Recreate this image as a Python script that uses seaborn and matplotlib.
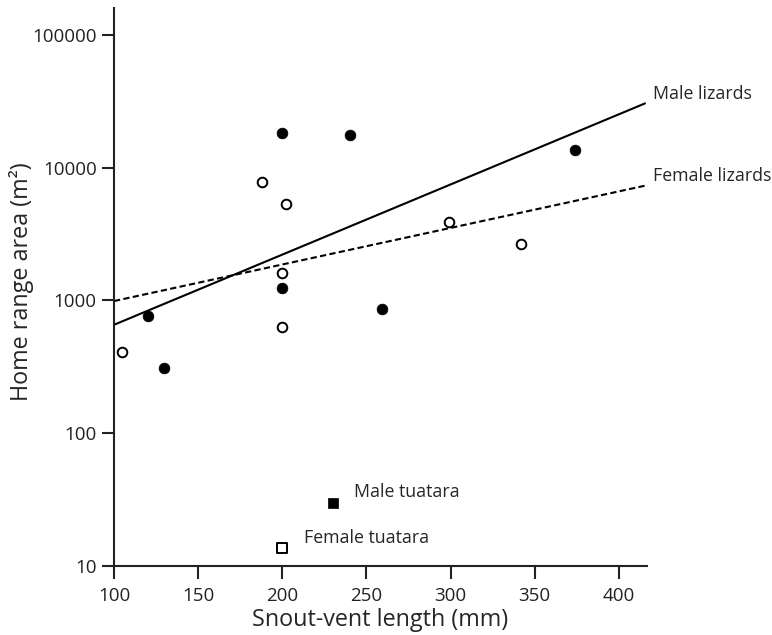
import matplotlib
matplotlib.use("Agg")
import matplotlib.pyplot as plt
import seaborn as sns
import numpy as np
import pandas as pd

# Data
male_svl = [120, 130, 200, 240, 200, 259, 374]
male_area = [760, 310, 18200, 17500, 1250, 860, 13600]
female_svl = [105, 188, 202, 200, 200, 299, 342]
female_area = [410, 7750, 5330, 1620, 630, 3880, 2670]
male_tuatara_svl = [230]
male_tuatara_area = [30]
female_tuatara_svl = [200]
female_tuatara_area = [13.6]
# regression line endpoints
line_x = [100, 415.5]
male_line_y = [656, 30500]
female_line_y = [990, 7320]

sns.set_theme(style="ticks")
plt.rcParams['font.family'] = ['Open Sans', 'DejaVu Sans']

fig = plt.figure(figsize=(7.72, 6.35), dpi=100)
ax = fig.add_axes([114/772, 1-566/635, (647-114)/772, (566-8)/635])

sns.lineplot(x=line_x, y=male_line_y, ax=ax, color='black', lw=1.5, linestyle='-')
sns.lineplot(x=line_x, y=female_line_y, ax=ax, color='black', lw=1.5, linestyle=(0, (3, 1.6)))

sns.scatterplot(x=male_svl, y=male_area, ax=ax, color='black', s=60, marker='o',
                edgecolor='black', linewidth=0.5, zorder=5)
sns.scatterplot(x=female_svl, y=female_area, ax=ax, color='white', s=48, marker='o',
                edgecolor='black', linewidth=1.4, zorder=5)
sns.scatterplot(x=male_tuatara_svl, y=male_tuatara_area, ax=ax, color='black', s=55, marker='s',
                edgecolor='black', linewidth=0.5, zorder=5)
sns.scatterplot(x=female_tuatara_svl, y=female_tuatara_area, ax=ax, color='white', s=45, marker='s',
                edgecolor='black', linewidth=1.4, zorder=5)

ax.set_yscale('log')
ax.set_xlim(100, 416.7)
ax.set_ylim(10, 10**5.203)
ax.set_xticks([100, 150, 200, 250, 300, 350, 400])
ax.set_yticks([10, 100, 1000, 10000, 100000])
ax.set_yticklabels(['10', '100', '1000', '10000', '100000'])
ax.yaxis.set_minor_locator(matplotlib.ticker.NullLocator())
ax.tick_params(axis='both', direction='out', length=9, width=1.5, labelsize=13.5, colors='#222222')
ax.tick_params(axis='x', pad=6)
for s in ['top', 'right']:
    ax.spines[s].set_visible(False)
for s in ['left', 'bottom']:
    ax.spines[s].set_linewidth(1.5)
    ax.spines[s].set_color('#222222')

ax.set_xlabel('Snout-vent length (mm)', fontsize=16.8)
ax.set_ylabel('Home range area (m²)', fontsize=16.8)
ax.xaxis.set_label_coords(0.499, -0.076)
ax.yaxis.set_label_coords(-0.150, 0.509)

fs = 12.8
ax.text(420.3, 10**(1+473/133), 'Male lizards', fontsize=fs, va='center', ha='left', clip_on=False)
ax.text(420.3, 10**(1+391/133), 'Female lizards', fontsize=fs, va='center', ha='left', clip_on=False)
ax.text(242.6, 36, 'Male tuatara', fontsize=fs, va='center', ha='left')
ax.text(212.9, 16.2, 'Female tuatara', fontsize=fs, va='center', ha='left')

fig.savefig('out.png', dpi=100)
